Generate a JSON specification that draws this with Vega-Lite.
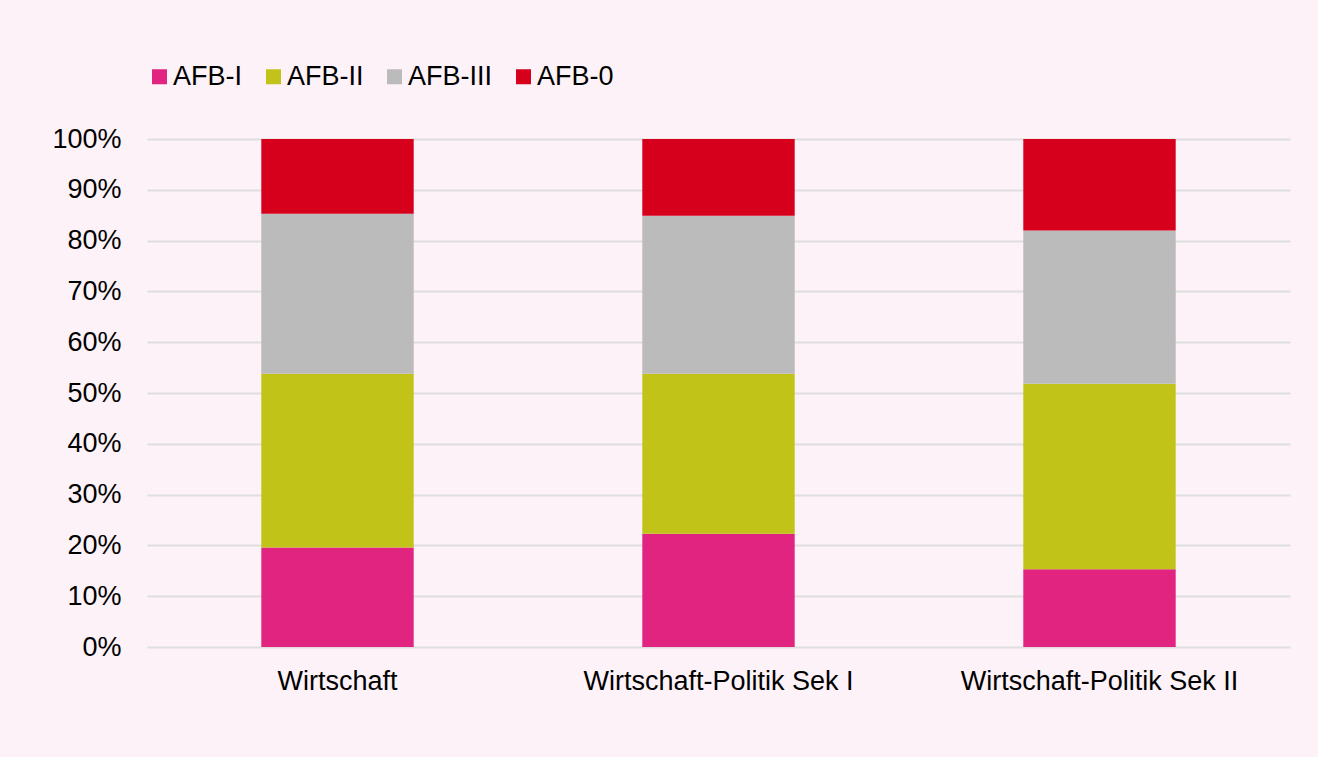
{
  "$schema": "https://vega.github.io/schema/vega-lite/v6.json",
  "width": 1143,
  "height": 508,
  "autosize": {"type": "none"},
  "padding": {"left": 147, "top": 139, "right": 28, "bottom": 110},
  "background": "#fdf2f7",
  "config": {"view": {"stroke": null}, "font": "Liberation Sans"},
  "data": {
    "values": [
      {"Fach": "Wirtschaft", "Stufe": "AFB-I", "Anteil": 19.6},
      {"Fach": "Wirtschaft", "Stufe": "AFB-II", "Anteil": 34.2},
      {"Fach": "Wirtschaft", "Stufe": "AFB-III", "Anteil": 31.5},
      {"Fach": "Wirtschaft", "Stufe": "AFB-0", "Anteil": 14.7},
      {"Fach": "Wirtschaft-Politik Sek I", "Stufe": "AFB-I", "Anteil": 22.3},
      {"Fach": "Wirtschaft-Politik Sek I", "Stufe": "AFB-II", "Anteil": 31.5},
      {"Fach": "Wirtschaft-Politik Sek I", "Stufe": "AFB-III", "Anteil": 31.1},
      {"Fach": "Wirtschaft-Politik Sek I", "Stufe": "AFB-0", "Anteil": 15.1},
      {"Fach": "Wirtschaft-Politik Sek II", "Stufe": "AFB-I", "Anteil": 15.3},
      {"Fach": "Wirtschaft-Politik Sek II", "Stufe": "AFB-II", "Anteil": 36.5},
      {"Fach": "Wirtschaft-Politik Sek II", "Stufe": "AFB-III", "Anteil": 30.2},
      {"Fach": "Wirtschaft-Politik Sek II", "Stufe": "AFB-0", "Anteil": 18.0}
    ]
  },
  "transform": [
    {"calculate": "indexof(['AFB-I','AFB-II','AFB-III','AFB-0'], datum.Stufe)", "as": "Reihenfolge"}
  ],
  "mark": {"type": "bar"},
  "encoding": {
    "x": {
      "field": "Fach", "type": "nominal", "sort": null,
      "scale": {"paddingInner": 0.6, "paddingOuter": 0.3},
      "axis": {"title": null, "labelAngle": 0, "labelFontSize": 27, "labelLimit": 0, "labelColor": "#000000", "domain": false, "ticks": false, "labelPadding": 21}
    },
    "y": {
      "field": "Anteil", "type": "quantitative", "stack": "normalize",
      "scale": {"domain": [0, 1], "nice": false},
      "axis": {"title": null, "values": [0, 0.1, 0.2, 0.3, 0.4, 0.5, 0.6, 0.7, 0.8, 0.9, 1], "format": ".0%", "labelFontSize": 27, "labelColor": "#000000", "domain": false, "ticks": false, "labelPadding": 26, "gridColor": "#dedede", "gridWidth": 2}
    },
    "order": {"field": "Reihenfolge", "type": "quantitative", "sort": "ascending"},
    "color": {
      "field": "Stufe", "type": "nominal",
      "sort": ["AFB-I", "AFB-II", "AFB-III", "AFB-0"],
      "scale": {"domain": ["AFB-I", "AFB-II", "AFB-III", "AFB-0"], "range": ["#e0247f", "#c2c319", "#bbbbbb", "#d6001c"]},
      "legend": {"title": null, "orient": "none", "legendX": -1, "legendY": -76, "direction": "horizontal", "symbolType": "square", "symbolSize": 225, "symbolStrokeWidth": 0, "labelFontSize": 27, "labelColor": "#000000", "labelOffset": 0, "columnPadding": 17}
    }
  }
}
